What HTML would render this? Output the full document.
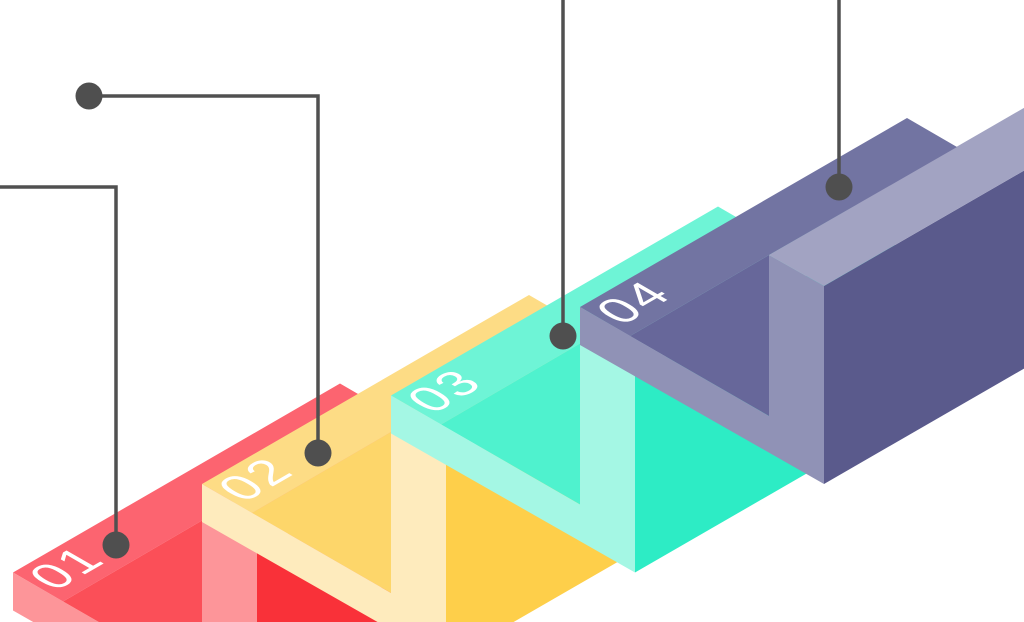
<!DOCTYPE html>
<html><head><meta charset="utf-8"><style>
html,body{margin:0;padding:0;background:#fff;width:1024px;height:622px;overflow:hidden}
svg{display:block;overflow:hidden}
text{font-family:"Liberation Sans",sans-serif;font-size:50px;fill:#fff;letter-spacing:3px}
</style></head><body>
<svg width="1024" height="622" viewBox="0 0 1024 622" xmlns="http://www.w3.org/2000/svg">
<!-- Step 1 red -->
<g transform="translate(-567,265.5)">
<polygon points="824,286 1084,136 1084,334 824,484" fill="#f93139"/>
<polygon points="769,255 1029,105 1084,136 824,286" fill="#fd9ca1"/>
<polygon points="580,307 907,118 957,147 769,255 630,336" fill="#fc6470"/>
<polygon points="630,336 769,255 769,416" fill="#fb4f58"/>
<polygon points="580,307 769,416 769,255 824,286 824,484 580,345" fill="#fd9599"/>
<text transform="matrix(0.866,-0.5,0.866,0.5,622,326)">01</text>
</g>
<!-- Step 2 yellow -->
<g transform="translate(-378,177)">
<polygon points="824,286 1084,136 1084,334 824,484" fill="#fecf4a"/>
<polygon points="769,255 1029,105 1084,136 824,286" fill="#feebbd"/>
<polygon points="580,307 907,118 957,147 769,255 630,336" fill="#fddc85"/>
<polygon points="630,336 769,255 769,416" fill="#fdd66a"/>
<polygon points="580,307 769,416 769,255 824,286 824,484 580,345" fill="#feebbd"/>
<text transform="matrix(0.866,-0.5,0.866,0.5,622,326)">02</text>
</g>
<!-- Step 3 teal -->
<g transform="translate(-189,88.5)">
<polygon points="824,286 1084,136 1084,334 824,484" fill="#2decc5"/>
<polygon points="769,255 1029,105 1084,136 824,286" fill="#a4f7e4"/>
<polygon points="580,307 907,118 957,147 769,255 630,336" fill="#6ef4d6"/>
<polygon points="630,336 769,255 769,416" fill="#4ff2ce"/>
<polygon points="580,307 769,416 769,255 824,286 824,484 580,345" fill="#a4f7e4"/>
<text transform="matrix(0.866,-0.5,0.866,0.5,622,326)">03</text>
</g>
<!-- Step 4 purple -->
<g>
<polygon points="824,286 1084,136 1084,334 824,484" fill="#5a5a8c"/>
<polygon points="769,255 1029,105 1084,136 824,286" fill="#a2a3c2"/>
<polygon points="580,307 907,118 957,147 769,255 630,336" fill="#7274a2"/>
<polygon points="630,336 769,255 769,416" fill="#67679a"/>
<polygon points="580,307 769,416 769,255 824,286 824,484 580,345" fill="#9092b6"/>
<text transform="matrix(0.866,-0.5,0.866,0.5,622,326)">04</text>
</g>
<!-- connectors -->
<g stroke="#505050" stroke-width="3.5" fill="none">
<polyline points="0,187 116,187 116,545"/>
<polyline points="89,96 318,96 318,453"/>
<line x1="563" y1="0" x2="563" y2="336"/>
<line x1="839" y1="0" x2="839" y2="187"/>
</g>
<g fill="#4f4f4f">
<circle cx="116" cy="545" r="13.5"/>
<circle cx="89" cy="96" r="13.5"/>
<circle cx="318" cy="453" r="13.5"/>
<circle cx="563" cy="336" r="13.5"/>
<circle cx="839" cy="187" r="13.5"/>
</g>
</svg>
</body></html>
